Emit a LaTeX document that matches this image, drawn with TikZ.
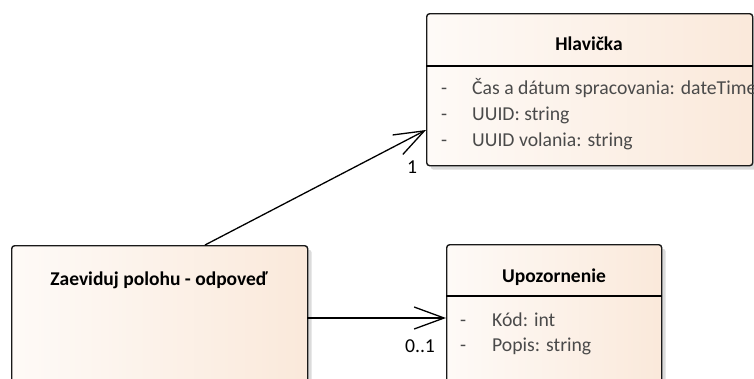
\documentclass[tikz,border=0pt]{standalone}
\usepackage{fontspec}
\setmainfont{Carlito}
\usetikzlibrary{positioning, arrows.meta, shadows}

\definecolor{umlpeach}{HTML}{F8E0CC}
\definecolor{attrgray}{HTML}{4A4A4A}
\pgfdeclarehorizontalshading{umlfill}{100bp}{color(0bp)=(umlpeach!80!white); color(22bp)=(umlpeach!12!white); color(100bp)=(umlpeach)}

\tikzset{
  cls/.style={draw=black!90, line width=1.4pt, rounded corners=3pt,
    shading=umlfill, anchor=north west, inner sep=0pt,
    drop shadow={shadow xshift=4pt, shadow yshift=-4pt, fill=black!14, opacity=1}},
  ttl/.style={font=\bfseries\fontsize{19.5}{22}\selectfont, inner sep=0pt, anchor=base},
  attr/.style={anchor=base west, inner sep=0pt, text=attrgray, font=\fontsize{19.7}{22}\selectfont},
  mult/.style={inner sep=0pt, anchor=base, font=\fontsize{19.7}{22}\selectfont},
  assoc/.style={line width=1.3pt, -{Straight Barb[length=30pt,width=22pt]}},
}

\begin{document}
\begin{tikzpicture}[x=1pt, y=-1pt]
   \useasboundingbox (0,0) rectangle (754,378);

   % classes
   \node[cls, minimum width=326pt, minimum height=152pt] (hla) at (426,13) {};
   \node[cls, minimum width=215pt, minimum height=170pt] (upo) at (446,244) {};
   \node[cls, minimum width=296pt, minimum height=170pt] (zav) at (11,245) {};

   % headers
   \draw[line width=1.4pt] ([yshift=-53pt]hla.north west) -- ([yshift=-53pt]hla.north east);
   \draw[line width=1.4pt] ([yshift=-52pt]upo.north west) -- ([yshift=-52pt]upo.north east);
   \node[ttl] (hlaT) at (589,50) {Hlavička};
   \node[ttl] (upoT) at (554,282) {Upozornenie};
   \node[ttl] (zavT) at (159,285) {Zaeviduj polohu - odpoveď};

   % attributes
   \node[attr] (h1d) at (441,94) {-};
   \node[attr] (h1) at (472,94) {Čas a dátum spracovania: dateTime};
   \node[attr] (h2d) at (441,120) {-};
   \node[attr] (h2) at (472,120) {UUID: string};
   \node[attr] (h3d) at (441,146) {-};
   \node[attr] (h3) at (472,146) {UUID volania: string};
   \node[attr] (u1d) at (460,326) {-};
   \node[attr] (u1) at (492,326) {Kód: int};
   \node[attr] (u2d) at (460,351) {-};
   \node[attr] (u2) at (492,351) {Popis: string};

   % associations
   \coordinate (zavTop) at (205,245);
   \coordinate (hlaIn) at (426,130);
   \coordinate (zavOut) at (307,318);
   \coordinate (upoIn) at (446,318);
   \path[assoc]
   (zavTop) edge (hlaIn)
   (zavOut) edge (upoIn);
   \node[mult] (m1) at (412,173) {1};
   \node[mult] (m2) at (420,352) {0..1};

\end{tikzpicture}
\end{document}
